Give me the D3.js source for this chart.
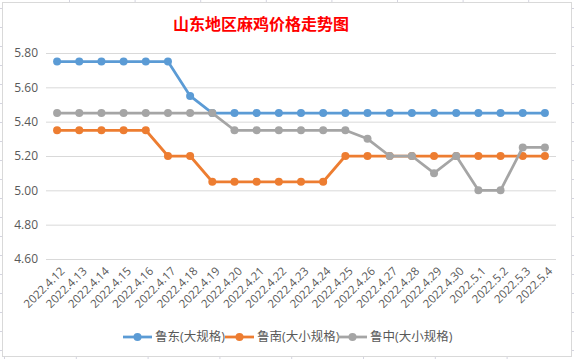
<!DOCTYPE html>
<html>
<head>
<meta charset="utf-8">
<script src="https://cdn.jsdelivr.net/npm/d3@7"></script>
<style>
  html, body { margin: 0; padding: 0; background: #fff; }
  svg { display: block; }
</style>
</head>
<body>
<svg id="chart"></svg>
<script>
const title = '山东地区麻鸡价格走势图';
const dates = ['2022.4.12', '2022.4.13', '2022.4.14', '2022.4.15', '2022.4.16', '2022.4.17',
  '2022.4.18', '2022.4.19', '2022.4.20', '2022.4.21', '2022.4.22', '2022.4.23', '2022.4.24',
  '2022.4.25', '2022.4.26', '2022.4.27', '2022.4.28', '2022.4.29', '2022.4.30', '2022.5.1',
  '2022.5.2', '2022.5.3', '2022.5.4'];
const ludong = [5.75, 5.75, 5.75, 5.75, 5.75, 5.75, 5.55, 5.45, 5.45, 5.45, 5.45, 5.45,
  5.45, 5.45, 5.45, 5.45, 5.45, 5.45, 5.45, 5.45, 5.45, 5.45, 5.45];
const lunan = [5.35, 5.35, 5.35, 5.35, 5.35, 5.20, 5.20, 5.05, 5.05, 5.05, 5.05, 5.05,
  5.05, 5.20, 5.20, 5.20, 5.20, 5.20, 5.20, 5.20, 5.20, 5.20, 5.20];
const luzhong = [5.45, 5.45, 5.45, 5.45, 5.45, 5.45, 5.45, 5.45, 5.35, 5.35, 5.35, 5.35,
  5.35, 5.35, 5.30, 5.20, 5.20, 5.10, 5.20, 5.00, 5.00, 5.25, 5.25];
const yTicks = [4.6, 4.8, 5.0, 5.2, 5.4, 5.6, 5.8];

const series = [
  { name: '鲁东(大规格)', values: ludong, color: '#5b9bd5' },
  { name: '鲁南(大小规格)', values: lunan, color: '#ed7d31' },
  { name: '鲁中(大小规格)', values: luzhong, color: '#a5a5a5' }
];

const width = 574;
const height = 359;
const font = '"Open Sans", "Noto Sans CJK SC", sans-serif';
const textColor = '#595959';
const gridColor = '#d9d9d9';

const svg = d3.select('#chart')
  .attr('width', width)
  .attr('height', height);

// spreadsheet cells peeking out around the chart frame
const sheet = svg.append('g').attr('stroke', '#d4d4e0').attr('stroke-width', 1);
d3.range(8.5, height, 19).forEach(function (y) {
  sheet.append('line').attr('x1', 0).attr('x2', 2).attr('y1', y).attr('y2', y);
  sheet.append('line').attr('x1', 572).attr('x2', width).attr('y1', y).attr('y2', y);
});
d3.range(69.5, width, 65.6).forEach(function (x) {
  sheet.append('line').attr('x1', x).attr('x2', x).attr('y1', 0).attr('y2', 2);
});
d3.range(4.5, width, 71.8).forEach(function (x) {
  sheet.append('line').attr('x1', x).attr('x2', x).attr('y1', 357).attr('y2', height);
});

svg.append('rect')
  .attr('x', 2.5)
  .attr('y', 2.5)
  .attr('width', 569)
  .attr('height', 354)
  .attr('fill', '#fff')
  .attr('stroke', gridColor);

svg.append('text')
  .attr('x', 261)
  .attr('y', 30)
  .attr('text-anchor', 'middle')
  .attr('fill', '#ff0000')
  .attr('font-family', '"Noto Sans CJK SC", sans-serif')
  .attr('font-weight', 'bold')
  .attr('font-size', 16)
  .text(title);

const x = d3.scalePoint()
  .domain(dates)
  .range([46, 556])
  .padding(0.5);

const y = d3.scaleLinear()
  .domain([4.6, 5.8])
  .range([259, 53]);

// horizontal grid + y labels
const yAxis = d3.axisLeft(y)
  .tickValues(yTicks)
  .tickFormat(d3.format('.2f'))
  .tickSize(-(556 - 46))
  .tickPadding(8);

const gy = svg.append('g')
  .attr('transform', 'translate(46,0)')
  .call(yAxis);
gy.select('.domain').remove();
gy.selectAll('line').attr('stroke', gridColor);
gy.selectAll('text')
  .attr('fill', textColor)
  .attr('font-family', font)
  .attr('font-size', 12);

// x labels, rotated
const xAxis = d3.axisBottom(x).tickSize(0).tickPadding(0);
const gx = svg.append('g')
  .attr('transform', 'translate(0,259)')
  .call(xAxis);
gx.select('.domain').remove();
gx.selectAll('text')
  .attr('fill', textColor)
  .attr('font-family', font)
  .attr('font-size', 11.5)
  .attr('text-anchor', 'end')
  .attr('dy', '0.35em')
  .attr('transform', 'translate(5,10) rotate(-45)');

const line = d3.line()
  .x(function (d, i) { return x(dates[i]); })
  .y(function (d) { return y(d); });

series.forEach(function (s) {
  const g = svg.append('g');
  g.append('path')
    .datum(s.values)
    .attr('fill', 'none')
    .attr('stroke', s.color)
    .attr('stroke-width', 2.75)
    .attr('stroke-linejoin', 'round')
    .attr('d', line);
  g.selectAll('circle')
    .data(s.values)
    .enter()
    .append('circle')
    .attr('cx', function (d, i) { return x(dates[i]); })
    .attr('cy', function (d) { return y(d); })
    .attr('r', 4)
    .attr('fill', s.color);
});

// legend
const legendX = [123, 225, 338];
const legend = svg.append('g').attr('transform', 'translate(0,337)');
series.forEach(function (s, i) {
  const item = legend.append('g').attr('transform', 'translate(' + legendX[i] + ',0)');
  item.append('line')
    .attr('x1', 0).attr('x2', 29)
    .attr('y1', 0).attr('y2', 0)
    .attr('stroke', s.color)
    .attr('stroke-width', 2.75);
  item.append('circle')
    .attr('cx', 14.5)
    .attr('cy', 0)
    .attr('r', 4)
    .attr('fill', s.color);
  item.append('text')
    .attr('x', 32)
    .attr('y', 0)
    .attr('dy', '0.35em')
    .attr('fill', textColor)
    .attr('font-family', font)
    .attr('font-size', 12.5)
    .text(s.name);
});
</script>
</body>
</html>
